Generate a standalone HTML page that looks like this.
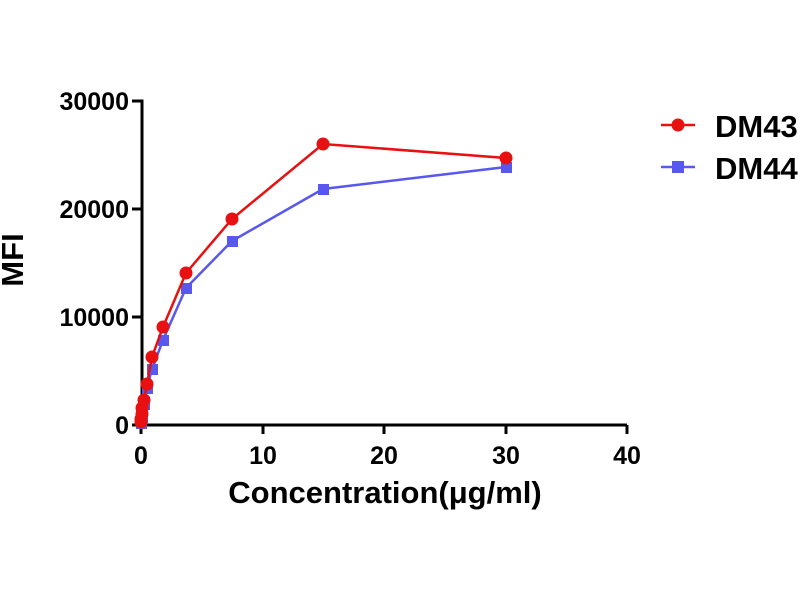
<!DOCTYPE html>
<html><head><meta charset="utf-8"><style>body{margin:0;background:#fff}</style></head><body>
<svg width="800" height="600" xmlns="http://www.w3.org/2000/svg" font-family="Liberation Sans, Arial, sans-serif" font-weight="bold">
<g stroke="#000" stroke-width="3" fill="none">
<path d="M132,101 H142 V425 H627"/>
<path d="M132,209 H142 M132,317 H142 M132,425 H142"/>
<path d="M141,425 V434 M263,425 V434 M384,425 V434 M506,425 V434 M627,425 V434"/>
</g>
<g font-size="25" text-anchor="end" fill="#000">
<text x="129" y="110">30000</text>
<text x="129" y="218">20000</text>
<text x="129" y="326">10000</text>
<text x="129" y="434">0</text>
</g>
<g font-size="25" text-anchor="middle" fill="#000">
<text x="141" y="464">0</text>
<text x="263" y="464">10</text>
<text x="384" y="464">20</text>
<text x="506" y="464">30</text>
<text x="627" y="464">40</text>
</g>
<text x="385" y="503" font-size="31" text-anchor="middle">Concentration(μg/ml)</text>
<text transform="translate(23,260) rotate(-90)" font-size="31" text-anchor="middle">MFI</text>
<polyline fill="none" stroke="#5858f0" stroke-width="2.5" points="141,423 141,421 142,417 142,411 144,404 147,388 152,369 163,340 186,288 232,241 323,189 506,167"/>
<g fill="#5858f0">
<rect x="136" y="418" width="11" height="11"/><rect x="136" y="416" width="11" height="11"/><rect x="137" y="412" width="11" height="11"/><rect x="137" y="406" width="11" height="11"/><rect x="139" y="399" width="11" height="11"/><rect x="142" y="383" width="11" height="11"/><rect x="147" y="364" width="11" height="11"/><rect x="158" y="335" width="11" height="11"/><rect x="181" y="283" width="11" height="11"/><rect x="227" y="236" width="11" height="11"/><rect x="318" y="184" width="11" height="11"/><rect x="501" y="162" width="11" height="11"/>
</g>
<polyline fill="none" stroke="#e81010" stroke-width="2.5" points="141,422 141,419 142,414 142,408 144,400 147,384 152,357 163,327 186,273 232,219 323,144 506,158"/>
<g fill="#e81010">
<circle cx="141" cy="422" r="6.5"/><circle cx="141" cy="419" r="6.5"/><circle cx="142" cy="414" r="6.5"/><circle cx="142" cy="408" r="6.5"/><circle cx="144" cy="400" r="6.5"/><circle cx="147" cy="384" r="6.5"/><circle cx="152" cy="357" r="6.5"/><circle cx="163" cy="327" r="6.5"/><circle cx="186" cy="273" r="6.5"/><circle cx="232" cy="219" r="6.5"/><circle cx="323" cy="144" r="6.5"/><circle cx="506" cy="158" r="6.5"/>
</g>
<line x1="661" y1="125" x2="695" y2="125" stroke="#e81010" stroke-width="2.5"/>
<circle cx="678" cy="125" r="6.5" fill="#e81010"/>
<line x1="661" y1="167" x2="695" y2="167" stroke="#5858f0" stroke-width="2.5"/>
<rect x="672" y="161" width="12" height="12" fill="#5858f0"/>
<text x="715" y="137" font-size="31">DM43</text>
<text x="715" y="179" font-size="31">DM44</text>
</svg>
</body></html>
